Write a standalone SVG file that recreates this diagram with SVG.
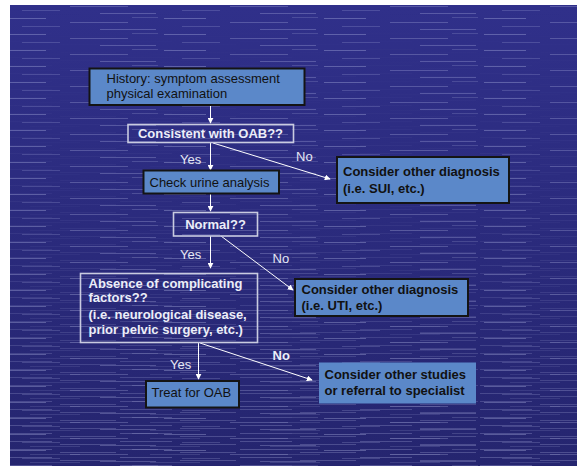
<svg xmlns="http://www.w3.org/2000/svg" width="577" height="468" viewBox="0 0 577 468">
  <defs>
    <linearGradient id="bg" x1="0" y1="0" x2="0" y2="1">
      <stop offset="0" stop-color="#30308a"/>
      <stop offset="1" stop-color="#25256f"/>
    </linearGradient>
    <!-- faint horizontal streak texture -->
    <pattern id="streaks" width="160" height="16" patternUnits="userSpaceOnUse">
      <line x1="4" y1="2.5" x2="46" y2="2.5" stroke="#b8bce8" stroke-opacity="0.35" stroke-width="1"/>
      <line x1="70" y1="6.5" x2="128" y2="6.5" stroke="#b8bce8" stroke-opacity="0.28" stroke-width="1"/>
      <line x1="22" y1="10.5" x2="60" y2="10.5" stroke="#b8bce8" stroke-opacity="0.22" stroke-width="1"/>
      <line x1="100" y1="13.5" x2="156" y2="13.5" stroke="#b8bce8" stroke-opacity="0.3" stroke-width="1"/>
      <line x1="132" y1="1.5" x2="158" y2="1.5" stroke="#b8bce8" stroke-opacity="0.2" stroke-width="1"/>
    </pattern>
    <pattern id="streaksDense" width="120" height="8" patternUnits="userSpaceOnUse">
      <line x1="0" y1="1.5" x2="52" y2="1.5" stroke="#b8bce8" stroke-opacity="0.3" stroke-width="1"/>
      <line x1="60" y1="4.5" x2="116" y2="4.5" stroke="#b8bce8" stroke-opacity="0.28" stroke-width="1"/>
      <line x1="30" y1="6.5" x2="80" y2="6.5" stroke="#b8bce8" stroke-opacity="0.18" stroke-width="1"/>
    </pattern>
    <linearGradient id="fadeIn" x1="0" y1="0" x2="0" y2="1">
      <stop offset="0" stop-color="#fff" stop-opacity="0"/>
      <stop offset="0.45" stop-color="#fff" stop-opacity="0.2"/>
      <stop offset="1" stop-color="#fff" stop-opacity="1"/>
    </linearGradient>
    <mask id="lowerMask">
      <rect x="0" y="0" width="577" height="468" fill="url(#fadeIn)"/>
    </mask>
    <marker id="arrow" viewBox="0 0 8 8" refX="7" refY="4" markerWidth="6" markerHeight="6" markerUnits="userSpaceOnUse" orient="auto">
      <path d="M0,0 L8,4 L0,8 Z" fill="#ffffff"/>
    </marker>
    <style>
      text { font-family: "Liberation Sans", Arial, sans-serif; font-size: 13px; }
      .box { fill: #5b88c9; stroke: #141414; stroke-width: 2; }
      .boxPlain { fill: #5b88c9; }
      .decision { fill: none; stroke: #c9cbe0; stroke-width: 1.6; }
      .dark { fill: #111111; }
      .darkBold { fill: #111111; font-weight: bold; }
      .light { fill: #e6e8f4; }
      .lightBold { fill: #eceef8; font-weight: bold; }
      .conn { stroke: #ffffff; stroke-width: 1; fill: none; marker-end: url(#arrow); }
    </style>
  </defs>

  <!-- slide background -->
  <rect x="10" y="5" width="567" height="461" fill="url(#bg)"/>
  <rect x="10" y="5" width="567" height="461" fill="url(#streaks)"/>
  <rect x="10" y="5" width="567" height="461" fill="url(#streaksDense)" mask="url(#lowerMask)"/>

  <!-- connectors -->
  <g id="connectors">
    <line class="conn" x1="210.5" y1="106" x2="210.5" y2="123"/>
    <line class="conn" x1="210.5" y1="143" x2="210.5" y2="170"/>
    <line class="conn" x1="213" y1="143" x2="330" y2="179"/>
    <line class="conn" x1="210.5" y1="194" x2="210.5" y2="211"/>
    <line class="conn" x1="210.5" y1="236" x2="210.5" y2="268"/>
    <line class="conn" x1="221" y1="236" x2="293" y2="290"/>
    <line class="conn" x1="198.5" y1="343" x2="198.5" y2="379"/>
    <line class="conn" x1="200" y1="343" x2="312" y2="380"/>
    <text class="light" x="180" y="164">Yes</text>
    <text class="light" x="296" y="161">No</text>
    <text class="light" x="180" y="259">Yes</text>
    <text class="light" x="272.5" y="263">No</text>
    <text class="light" x="170" y="368.5">Yes</text>
    <text class="lightBold" x="272.5" y="360">No</text>
  </g>

  <g id="history">
    <rect class="box" x="89.5" y="68.5" width="215" height="36.5"/>
    <text class="dark" x="106.5" y="82.5">History: symptom assessment</text>
    <text class="dark" x="106.5" y="97.5">physical examination</text>
  </g>

  <g id="consistent-oab">
    <rect class="decision" x="128" y="124.5" width="165.5" height="18"/>
    <text class="lightBold" x="210.5" y="137.5" text-anchor="middle">Consistent with OAB??</text>
  </g>

  <g id="other-diagnosis-sui">
    <rect class="box" x="337" y="157" width="172" height="46"/>
    <text class="darkBold" x="343" y="176">Consider other diagnosis</text>
    <text class="darkBold" x="343" y="192.5">(i.e. SUI, etc.)</text>
  </g>

  <g id="urine-analysis">
    <rect class="box" x="143.5" y="170.5" width="135.5" height="23"/>
    <text class="dark" x="149.5" y="186.5">Check urine analysis</text>
  </g>

  <g id="normal">
    <rect class="decision" x="173.5" y="212.5" width="84" height="23.5"/>
    <text class="lightBold" x="215.5" y="228.5" text-anchor="middle">Normal??</text>
  </g>

  <g id="other-diagnosis-uti">
    <rect class="box" x="295" y="279" width="173" height="37"/>
    <text class="darkBold" x="301.5" y="294">Consider other diagnosis</text>
    <text class="darkBold" x="301.5" y="309.5">(i.e. UTI, etc.)</text>
  </g>

  <g id="complicating-factors">
    <rect class="decision" x="80.5" y="273.5" width="177" height="69"/>
    <text class="lightBold" x="88.5" y="287.5">Absence of complicating</text>
    <text class="lightBold" x="88.5" y="302">factors??</text>
    <text class="lightBold" x="88.5" y="318.5">(i.e. neurological disease,</text>
    <text class="lightBold" x="88.5" y="334">prior pelvic surgery, etc.)</text>
  </g>

  <g id="treat-oab">
    <rect class="box" x="146" y="381" width="93" height="26.5"/>
    <text class="dark" x="151.5" y="397">Treat for OAB</text>
  </g>

  <g id="other-studies">
    <rect class="boxPlain" x="319" y="362.5" width="157" height="41"/>
    <text class="darkBold" x="324.5" y="378.5">Consider other studies</text>
    <text class="darkBold" x="324.5" y="394.5">or referral to specialist</text>
  </g>
</svg>
